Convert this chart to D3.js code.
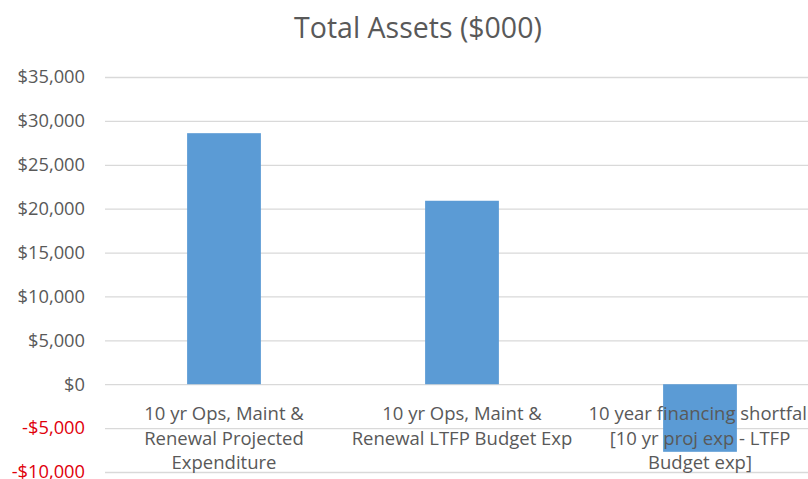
<!DOCTYPE html>
<html>
<head>
<meta charset="utf-8">
<script src="https://cdn.jsdelivr.net/npm/d3@7"></script>
<style>
  body { margin: 0; background: #fff; }
  svg text { font-family: "Open Sans", sans-serif; }
</style>
</head>
<body>
<div id="chart"></div>
<script>
// data
const categories = [
  ["10 yr Ops, Maint &", "Renewal Projected", "Expenditure"],
  ["10 yr Ops, Maint &", "Renewal LTFP Budget Exp"],
  ["10 year financing shortfall", "[10 yr proj exp - LTFP", "Budget exp]"]
];
const values = [28600, 20900, -7700];
const yTicks = [-10000, -5000, 0, 5000, 10000, 15000, 20000, 25000, 30000, 35000];
const chartTitle = "Total Assets ($000)";

const width = 808, height = 479
, margin = {top: 77, left: 105, bottom: 7}
, plotRight = 819 // plot area runs past the right edge of the picture
, innerWidth = plotRight - margin.left
, innerHeight = height - margin.top - margin.bottom;

const svg = d3.select("#chart").append("svg")
  .attr("width", width)
  .attr("height", height);

svg.append("text")
  .attr("x", 418)
  .attr("y", 38)
  .attr("text-anchor", "middle")
  .style("font-size", "28.5px")
  .style("fill", "#595959")
  .text(chartTitle);

const g = svg.append("g")
  .attr("transform", `translate(${margin.left},${margin.top})`);

const xScale = d3.scaleBand()
  .domain(d3.range(values.length))
  .range([0, innerWidth])
  .paddingInner(0.69)
  .paddingOuter(0.345);

const yScale = d3.scaleLinear()
  .domain([-10000, 35000])
  .range([innerHeight, 0]);

// gridlines + tick labels
const yAxis = d3.axisLeft(yScale)
  .tickValues(yTicks)
  .tickSize(-innerWidth)
  .tickPadding(20)
  .tickFormat(d => (d < 0 ? "-$" : "$") + d3.format(",")(Math.abs(d)));

const yAxisG = g.append("g").call(yAxis);
yAxisG.select(".domain").remove();
yAxisG.selectAll(".tick line")
  .attr("stroke", "#d9d9d9")
  .attr("stroke-width", 1.3);
yAxisG.selectAll(".tick text")
  .style("font-size", "18.3px")
  .attr("fill", d => d < 0 ? "#e0000b" : "#595959");

// bars
g.selectAll("rect.bar")
  .data(values)
  .join("rect")
  .attr("class", "bar")
  .attr("x", (d, i) => xScale(i))
  .attr("width", xScale.bandwidth())
  .attr("y", d => yScale(Math.max(0, d)))
  .attr("height", d => Math.abs(yScale(d) - yScale(0)))
  .attr("fill", "#5b9bd5");

// category labels below the zero line
const labelG = g.append("g")
  .attr("transform", `translate(0,${yScale(0)})`);

categories.forEach((lines, i) => {
  const t = labelG.append("text")
    .attr("x", xScale(i) + xScale.bandwidth() / 2)
    .attr("y", 36)
    .attr("text-anchor", "middle")
    .style("font-size", "18.5px")
    .style("fill", "#595959");
  lines.forEach((line, j) => {
    t.append("tspan")
      .attr("x", xScale(i) + xScale.bandwidth() / 2)
      .attr("dy", j === 0 ? 0 : 24.5)
      .text(line);
  });
});
</script>
</body>
</html>
